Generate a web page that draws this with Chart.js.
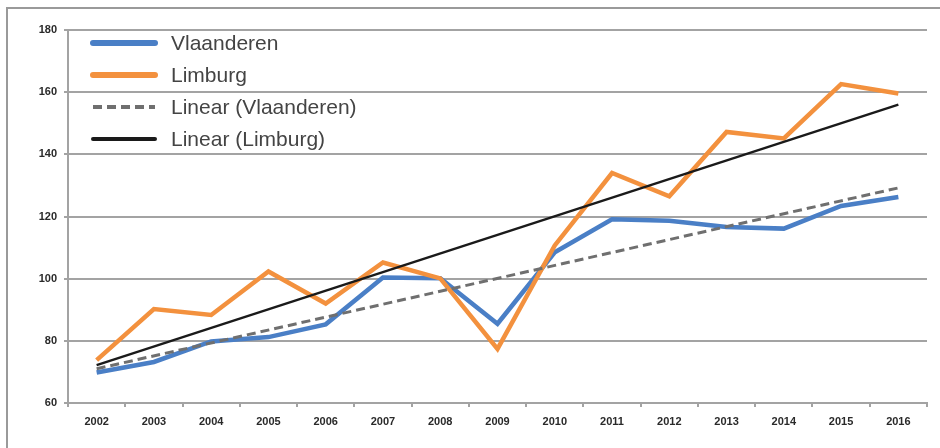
<!DOCTYPE html>
<html>
<head>
<meta charset="utf-8">
<script src="https://cdn.jsdelivr.net/npm/chart.js@4"></script>
<style>
    html, body { margin: 0; padding: 0; background: #fff; }
    #wrap { position: relative; width: 940px; height: 448px; }
</style>
</head>
<body>
<div id="wrap"><canvas id="chart"></canvas></div>
<script>
const years = ['2002', '2003', '2004', '2005', '2006', '2007', '2008', '2009',
    '2010', '2011', '2012', '2013', '2014', '2015', '2016'];
const vlaanderen = [69.8, 73.2, 79.8, 81.2, 85.3, 100.4, 100.1, 85.5,
    108.5, 119.1, 118.6, 116.6, 116.1, 123.4, 126.3];
const limburg = [73.8, 90.2, 88.3, 102.3, 92.0, 105.2, 100.1, 77.4,
    110.7, 134.0, 126.5, 147.2, 145.1, 162.6, 159.6];
// trendline end points (2002 and 2016)
const trendVlaanderen = [71.0, null, null, null, null, null, null, null,
    null, null, null, null, null, null, 129.2];
const trendLimburg = [72.2, null, null, null, null, null, null, null,
    null, null, null, null, null, null, 156.0];
const yTicks = [60, 80, 100, 120, 140, 160, 180];

const gridColor = '#a3a3a3';
const tickFont = { family: '"Liberation Sans", Arial, sans-serif', size: 11, weight: 'bold' };

// legend drawn inside the plot, top-left, like the original
const insideLegend = {
    id: 'insideLegend',
    afterDatasetsDraw(chart) {
        const ctx = chart.ctx;
        const items = [
            { i: 0, width: 6 },
            { i: 1, width: 6 },
            { i: 2, width: 4 },
            { i: 3, width: 4 }
        ];
        ctx.save();
        items.forEach((item, n) => {
            const ds = chart.data.datasets[item.i];
            const y = 43 + n * 32;
            ctx.beginPath();
            ctx.lineWidth = item.width;
            ctx.strokeStyle = ds.borderColor;
            ctx.lineCap = ds.borderDash ? 'butt' : 'round';
            ctx.setLineDash(ds.borderDash || []);
            ctx.moveTo(93, y);
            ctx.lineTo(155, y);
            ctx.stroke();
            ctx.setLineDash([]);
            ctx.fillStyle = '#444';
            ctx.font = '21px "Liberation Sans", Arial, sans-serif';
            ctx.textBaseline = 'middle';
            ctx.fillText(ds.label, 171, y + 1);
        });
        ctx.restore();
    }
};

// outer frame (top and left edges visible)
const frame = {
    id: 'frame',
    beforeDraw(chart) {
        const ctx = chart.ctx;
        ctx.save();
        ctx.strokeStyle = '#9a9a9a';
        ctx.lineWidth = 2;
        ctx.beginPath();
        ctx.moveTo(7, 448);
        ctx.lineTo(7, 8);
        ctx.lineTo(940, 8);
        ctx.stroke();
        ctx.restore();
    }
};

new Chart(document.getElementById('chart'), {
    type: 'line',
    data: {
        labels: years,
        datasets: [
            {
                label: 'Vlaanderen',
                data: vlaanderen,
                borderColor: '#4a7fc6',
                borderWidth: 4.5,
                pointRadius: 0,
                tension: 0,
                order: 3
            },
            {
                label: 'Limburg',
                data: limburg,
                borderColor: '#f3913e',
                borderWidth: 4.5,
                pointRadius: 0,
                tension: 0,
                order: 2
            },
            {
                label: 'Linear (Vlaanderen)',
                data: trendVlaanderen,
                borderColor: '#6f6f6f',
                borderWidth: 3,
                borderDash: [9, 5],
                pointRadius: 0,
                spanGaps: true,
                order: 1
            },
            {
                label: 'Linear (Limburg)',
                data: trendLimburg,
                borderColor: '#1a1a1a',
                borderWidth: 2.4,
                pointRadius: 0,
                spanGaps: true,
                order: 0
            }
        ]
    },
    options: {
        responsive: true,
        maintainAspectRatio: false,
        animation: false,
        layout: { padding: { left: 0, top: 30, right: 13, bottom: 0 } },
        plugins: {
            legend: { display: false },
            tooltip: { enabled: false }
        },
        scales: {
            x: {
                offset: true,
                afterFit: s => { s.height = 45; },
                grid: {
                    display: true,
                    drawOnChartArea: false,
                    drawTicks: true,
                    tickLength: 4,
                    color: gridColor,
                    lineWidth: 2,
                    offset: true
                },
                border: { display: true, color: gridColor, width: 2 },
                ticks: { color: '#2a2a2a', font: tickFont, padding: 8, maxRotation: 0, autoSkip: false }
            },
            y: {
                min: 60,
                max: 180,
                afterFit: s => { s.width = 68; },
                afterBuildTicks: s => { s.ticks = yTicks.map(v => ({ value: v })); },
                grid: {
                    color: gridColor,
                    lineWidth: 2,
                    tickLength: 4
                },
                border: { display: true, color: gridColor, width: 2 },
                ticks: { color: '#2a2a2a', font: tickFont, padding: 7 }
            }
        }
    },
    plugins: [frame, insideLegend]
});
</script>
</body>
</html>
